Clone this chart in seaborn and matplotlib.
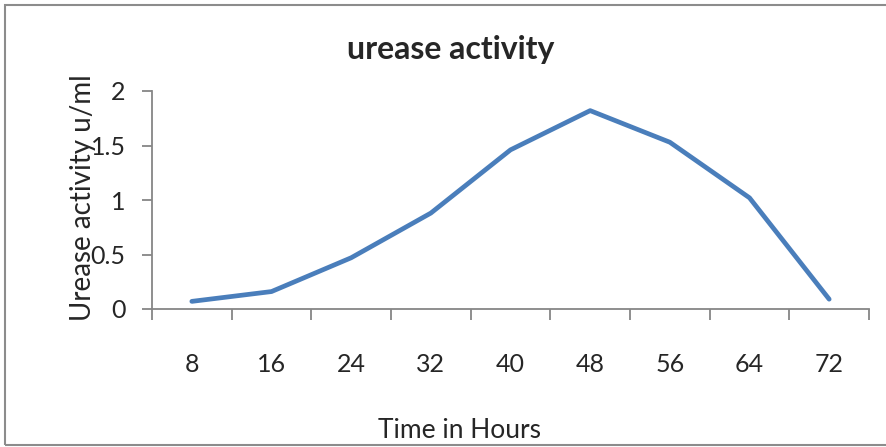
import matplotlib
matplotlib.use('Agg')
import matplotlib.pyplot as plt
from matplotlib.patches import Rectangle
import pandas as pd
import seaborn as sns

hours = ['8', '16', '24', '32', '40', '48', '56', '64', '72']
activity = [0.07, 0.16, 0.47, 0.88, 1.46, 1.82, 1.53, 1.02, 0.09]
y_ticks = [0, 0.5, 1, 1.5, 2]
y_tick_labels = ['0', '0.5', '1', '1.5', '2']

sns.set_style('white')
plt.rcParams['font.family'] = ['Lato', 'DejaVu Sans']

df = pd.DataFrame({'hours': hours, 'activity': activity})

fig = plt.figure(figsize=(8.87, 4.47), dpi=100)
ax = fig.add_axes([152 / 887, 1 - 309 / 447, (869 - 152) / 887, (309 - 91) / 447])

sns.lineplot(data=df, x='hours', y='activity', color='#4A7EBB', linewidth=3.4,
             solid_capstyle='round', sort=False, ax=ax)

grey = '#868686'
ax.set_xlim(-0.5, len(hours) - 0.5)
ax.set_ylim(0, 2)
ax.set_yticks(y_ticks, labels=y_tick_labels)
ax.set_xticks(range(len(hours)), labels=hours)
ax.set_xticks([i - 0.5 for i in range(len(hours) + 1)], minor=True)
ax.tick_params(axis='x', which='major', bottom=False, pad=28, labelsize=18)
ax.tick_params(axis='x', which='minor', bottom=True, length=8, width=1.3, color=grey,
               direction='out')
ax.tick_params(axis='y', left=True, length=7, width=1.3, color=grey, direction='out',
               pad=12, labelsize=18)
for side in ['top', 'right']:
    ax.spines[side].set_visible(False)
for side in ['left', 'bottom']:
    ax.spines[side].set_color(grey)
    ax.spines[side].set_linewidth(1.3)
ax.set_xlabel('')
ax.set_ylabel('')

fig.text(451 / 887, 1 - 50 / 447, 'urease activity', ha='center', va='center',
         fontsize=23, fontweight='bold')
fig.text(460 / 887, 1 - 431 / 447, 'Time in Hours', ha='center', va='center', fontsize=19)
fig.text(83 / 887, 1 - 198 / 447, 'Urease activity u/ml', ha='center', va='center',
         rotation=90, fontsize=20)

fig.patches.append(Rectangle((5 / 887, 2 / 447), 1, 1 - 7 / 447, transform=fig.transFigure,
                             fill=False, edgecolor='#8c8c8c', linewidth=1.5))

fig.savefig('out.png', dpi=100)
